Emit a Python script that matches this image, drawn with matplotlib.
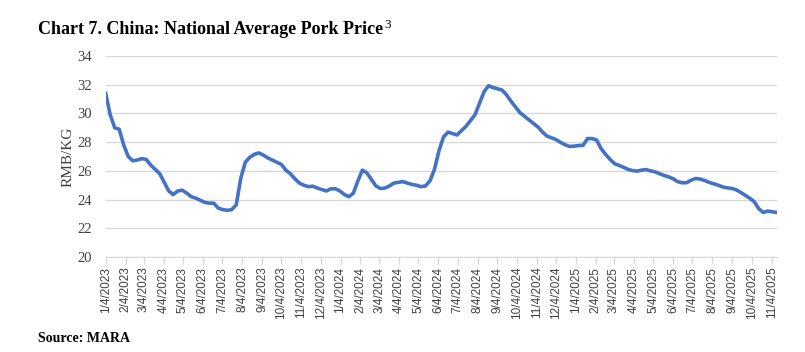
"""China national average pork price, weekly (Chart 7)."""

import matplotlib
matplotlib.use("Agg")
import matplotlib.pyplot as plt
import matplotlib.dates as mdates
import pandas as pd

# weekly observations (Wednesdays), RMB/KG
start_date = "2023-01-04"
prices = [
    31.4, 29.9, 29.0, 28.9, 27.8, 27.0, 26.7, 26.75, 26.85, 26.8,
    26.4, 26.1, 25.8, 25.2, 24.6, 24.35, 24.6, 24.65, 24.45, 24.2,
    24.1, 23.95, 23.8, 23.75, 23.75, 23.4, 23.3, 23.25, 23.3, 23.65,
    25.5, 26.6, 26.95, 27.15, 27.25, 27.1, 26.9, 26.75, 26.6, 26.45,
    26.05, 25.8, 25.45, 25.15, 25.0, 24.9, 24.93, 24.8, 24.7, 24.6,
    24.75, 24.75, 24.6, 24.35, 24.2, 24.45, 25.3, 26.05, 25.85, 25.4,
    24.95, 24.77, 24.8, 24.95, 25.15, 25.2, 25.25, 25.15, 25.05, 25.0,
    24.9, 24.95, 25.3, 26.1, 27.4, 28.35, 28.7, 28.6, 28.5, 28.8,
    29.1, 29.5, 29.9, 30.7, 31.5, 31.93, 31.8, 31.72, 31.63, 31.3,
    30.85, 30.45, 30.05, 29.8, 29.55, 29.3, 29.05, 28.7, 28.42, 28.3,
    28.18, 27.98, 27.82, 27.7, 27.72, 27.76, 27.78, 28.25, 28.25, 28.15,
    27.55, 27.15, 26.8, 26.5, 26.38, 26.25, 26.1, 26.02, 25.98, 26.05,
    26.09, 26.0, 25.93, 25.8, 25.68, 25.58, 25.45, 25.25, 25.17, 25.18,
    25.35, 25.47, 25.43, 25.33, 25.2, 25.1, 25.0, 24.88, 24.82, 24.78,
    24.68, 24.5, 24.3, 24.1, 23.85, 23.37, 23.1, 23.2, 23.15, 23.1,
]
# monthly ticks on the 4th, 1/4/2023 .. 11/4/2025
tick_dates = pd.date_range("2023-01-01", "2025-11-01", freq="MS") + pd.Timedelta(days=3)
y_ticks = list(range(20, 35, 2))

dates = pd.date_range(start_date, periods=len(prices), freq="7D")

fig = plt.figure(figsize=(8.05, 3.52), dpi=100)
ax = fig.add_axes([105.7 / 805, 1 - 257 / 352, (776.7 - 105.7) / 805, (257 - 56) / 352])

ax.plot(dates, prices, color="#4472C4", linewidth=2.6, solid_joinstyle="round")

ax.set_xlim(dates[0], dates[-1])
ax.set_ylim(20, 34)
ax.set_yticks(y_ticks)
ax.set_xticks(tick_dates)
ax.xaxis.set_major_formatter(
    matplotlib.ticker.FuncFormatter(
        lambda v, _: (lambda d: f"{d.month}/{d.day}/{d.year}")(mdates.num2date(v))
    )
)
ax.grid(axis="y", color="#d9d9d9", linewidth=1)
ax.set_axisbelow(True)
for side in ("left", "right", "top"):
    ax.spines[side].set_visible(False)
ax.spines["bottom"].set_color("#d9d9d9")
ax.tick_params(axis="y", length=0, pad=10, labelsize=10.5, colors="#404040")
ax.tick_params(axis="x", length=5, width=1, color="#d9d9d9", labelsize=8.5,
               labelcolor="#404040", rotation=90, pad=2)
for lbl in ax.get_yticklabels():
    lbl.set_fontfamily("Liberation Serif")
for lbl in ax.get_xticklabels():
    lbl.set_fontfamily("Liberation Sans")
ax.set_ylabel("RMB/KG", family="Liberation Serif", fontsize=11, color="#404040", labelpad=2)

title = fig.text(38 / 805, 1 - 30 / 352, "Chart 7. China: National Average Pork Price",
                 family="Liberation Serif", weight="bold", fontsize=13,
                 va="center", ha="left")
# superscript footnote mark right after the title
bb = title.get_window_extent(renderer=fig.canvas.get_renderer())
fig.text((bb.x1 + 1) / 805, 1 - 25 / 352, "3", family="Liberation Serif",
         fontsize=9.5, va="center", ha="left")
fig.text(38 / 805, 1 - 339 / 352, "Source: MARA", family="Liberation Serif",
         weight="bold", fontsize=10, va="center", ha="left")

fig.savefig("out.png", dpi=100)
plt.close(fig)
